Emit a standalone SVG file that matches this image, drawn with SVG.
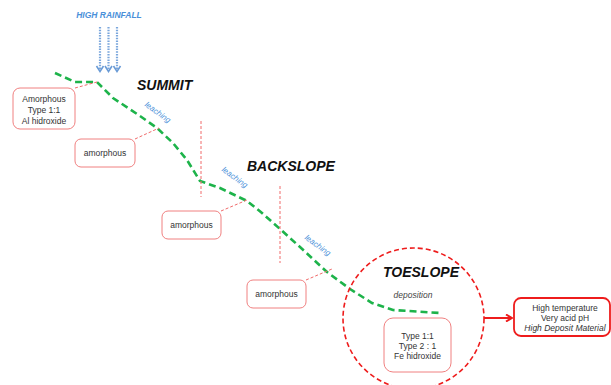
<svg xmlns="http://www.w3.org/2000/svg" width="611" height="385" viewBox="0 0 611 385">
<defs>
<style>
.box{fill:#fff;stroke:#f08080;stroke-width:1;}
.btxt{font-family:"Liberation Sans",Arial,sans-serif;font-size:8.5px;fill:#333;text-anchor:middle;}
.title{font-family:"Liberation Sans",Arial,sans-serif;font-size:14px;font-weight:bold;font-style:italic;fill:#111;}
.leach{font-family:"Liberation Sans",Arial,sans-serif;font-size:8px;font-style:italic;fill:#4a90d9;text-anchor:middle;}
.conn{stroke:#f06a6a;stroke-width:1;stroke-dasharray:3,2;fill:none;}
.vline{stroke:#f06a6a;stroke-width:1;stroke-dasharray:3,2;fill:none;}
.rain{stroke:#7aa6dc;stroke-width:2.2;stroke-dasharray:1.5,1.2;fill:none;}
.rainhead{stroke:#6a9bd6;stroke-width:1.6;fill:none;}
</style>
<marker id="arr" markerWidth="8" markerHeight="8" refX="7" refY="4" orient="auto" markerUnits="userSpaceOnUse">
<path d="M1,0.5 L7,4 L1,7.5" fill="none" stroke="#ee1c1c" stroke-width="2"/>
</marker>
</defs>
<rect width="611" height="385" fill="#fff"/>

<g id="rain">
<text x="109" y="18" font-family="Liberation Sans,Arial,sans-serif" font-size="8.5" font-weight="bold" font-style="italic" fill="#4a90d9" text-anchor="middle">HIGH RAINFALL</text>
<path class="rain" d="M100,27 V70 M108.5,27 V70 M117,27 V70"/>
<path class="rainhead" d="M96.5,66 L100,71.5 L103.5,66 M105,66 L108.5,71.5 L112,66 M113.5,66 L117,71.5 L120.5,66"/>
</g>

<g id="slope">
<path d="M55,73 L75,82 L97,82 L113,98 L140,116 L157,128 L173,143 L187,160 L200,181 L220,188 L247,201 L262,213 L280,229 L300,247 L327,272 L350,289 L372,303 L393,310 L440,313" fill="none" stroke="#1db34a" stroke-width="2.6" stroke-dasharray="7,4"/>
</g>

<g id="connectors">
<line class="vline" x1="201" y1="121" x2="201" y2="197"/>
<line class="vline" x1="280" y1="186" x2="280" y2="263"/>
<line class="conn" x1="75" y1="88" x2="97" y2="82"/>
<line class="conn" x1="135" y1="139" x2="159" y2="128"/>
<line class="conn" x1="221" y1="211" x2="247" y2="200"/>
<line class="conn" x1="306" y1="280" x2="332" y2="269"/>
<line x1="484" y1="318" x2="512" y2="318" stroke="#ee1c1c" stroke-width="2" marker-end="url(#arr)"/>
</g>

<g id="labels">
<text class="title" x="137" y="90">SUMMIT</text>
<text class="title" x="247" y="171">BACKSLOPE</text>
<text class="leach" transform="translate(158,112) rotate(36)" y="3">leaching</text>
<text class="leach" transform="translate(235,177) rotate(36)" y="3">leaching</text>
<text class="leach" transform="translate(318,245) rotate(36)" y="3">leaching</text>
</g>

<g id="summit-box">
<rect class="box" x="13" y="88" width="62" height="41" rx="7"/>
<text class="btxt" x="44" y="102">Amorphous</text>
<text class="btxt" x="44" y="113">Type 1:1</text>
<text class="btxt" x="44" y="124">Al hidroxide</text>
</g>

<g id="amorphous-1">
<rect class="box" x="75" y="139" width="60" height="28" rx="6"/>
<text class="btxt" x="105" y="156">amorphous</text>
</g>

<g id="amorphous-2">
<rect class="box" x="162" y="211" width="59" height="28" rx="6"/>
<text class="btxt" x="191.5" y="228">amorphous</text>
</g>

<g id="amorphous-3">
<rect class="box" x="247" y="280" width="59" height="28" rx="6"/>
<text class="btxt" x="276.5" y="297">amorphous</text>
</g>

<g id="toeslope">
<circle cx="413.5" cy="318.5" r="70.5" fill="none" stroke="#ee1c1c" stroke-width="1.6" stroke-dasharray="5,3"/>
<text class="title" x="383" y="277">TOESLOPE</text>
<text x="413" y="298" font-family="Liberation Sans,Arial,sans-serif" font-size="8.5" font-style="italic" fill="#444" text-anchor="middle">deposition</text>
</g>

<g id="toeslope-box">
<rect class="box" x="384" y="318" width="67" height="54" rx="9"/>
<text class="btxt" x="417.5" y="339">Type 1:1</text>
<text class="btxt" x="417.5" y="349">Type 2 : 1</text>
<text class="btxt" x="417.5" y="359">Fe hidroxide</text>
</g>

<g id="result-box">
<rect x="514" y="298" width="96" height="38" rx="7" fill="#fff" stroke="#ee1c1c" stroke-width="1.8"/>
<text class="btxt" x="565" y="311">High temperature</text>
<text class="btxt" x="565" y="321">Very acid pH</text>
<text class="btxt" x="565" y="331" font-style="italic">High Deposit Material</text>
</g>
</svg>
